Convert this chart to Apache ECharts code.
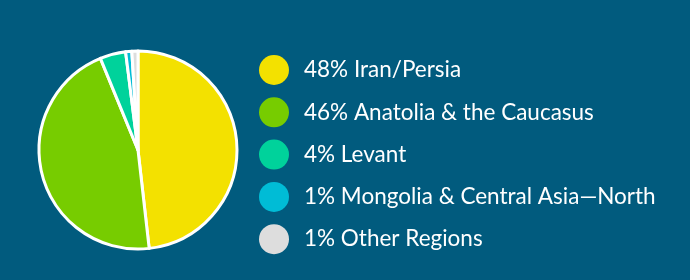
<!DOCTYPE html>
<html>
<head>
<meta charset="utf-8">
<script src="https://cdn.jsdelivr.net/npm/echarts@6/dist/echarts.min.js"></script>
<style>
html,body{margin:0;padding:0;background:#015b7e;}
#chart{width:690px;height:280px;}
</style>
</head>
<body>
<div id="chart"></div>
<script>
const categories = ['Iran/Persia', 'Anatolia & the Caucasus', 'Levant', 'Mongolia & Central Asia—North', 'Other Regions'];
const values = [48.2, 45.6, 4.2, 1.0, 1.0];
const percentLabels = ['48%', '46%', '4%', '1%', '1%'];
const colors = ['#f3e100', '#77cc00', '#00d29b', '#00bcd6', '#dddddd'];

const chart = echarts.init(document.getElementById('chart'));
chart.setOption({
  backgroundColor: '#015b7e',
  animation: false,
  color: colors,
  legend: {
    orient: 'vertical',
    left: 259,
    top: 55,
    padding: 0,
    icon: 'circle',
    itemWidth: 30,
    itemHeight: 30,
    itemGap: 12.3,
    itemStyle: { borderWidth: 0 },
    data: categories,
    formatter: function (name) {
      return percentLabels[categories.indexOf(name)] + ' ' + name;
    },
    textStyle: {
      color: '#ffffff',
      fontSize: 22.5,
      lineHeight: 22,
      fontFamily: 'Lato',
      padding: [0, 0, 8, 10]
    }
  },
  series: [{
    type: 'pie',
    center: [138, 150],
    radius: 99,
    startAngle: 90,
    clockwise: true,
    label: { show: false },
    labelLine: { show: false },
    emphasis: { disabled: true },
    itemStyle: { borderColor: '#ffffff', borderWidth: 3 },
    data: categories.map((c, i) => ({ name: c, value: values[i] }))
  }]
});
</script>
</body>
</html>
